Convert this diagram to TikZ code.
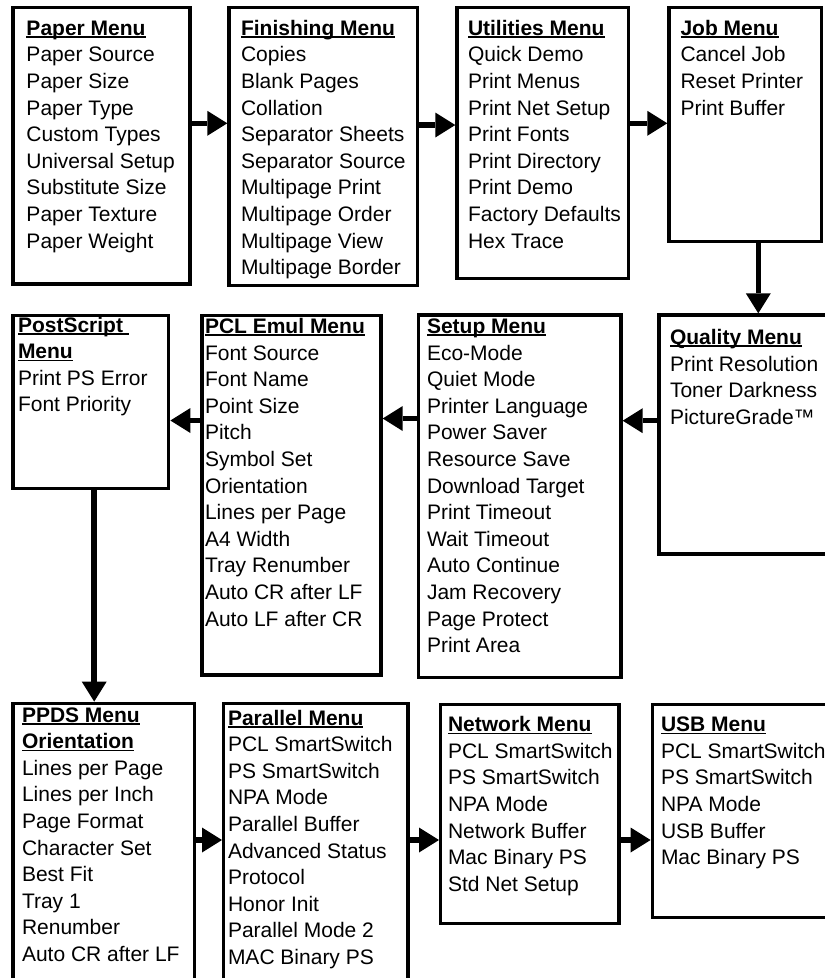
\documentclass[tikz,border=0pt]{standalone}
\usepackage{fontspec}
\setmainfont{Liberation Sans}
\usetikzlibrary{arrows.meta,fit}
\newcommand\menuhead[1]{\setbox0=\hbox{\bfseries #1}\rlap{\rule[-2.6pt]{\wd0}{1.7pt}}\box0}
\newcommand\mfont{\fontsize{21}{26.6}\selectfont}
\begin{document}
\begin{tikzpicture}[x=1pt,y=-1pt,
  box/.style={draw, line width=3.4pt, inner sep=0pt},
  menutext/.style={anchor=north west, inner sep=0pt, outer sep=0pt, align=left, font=\mfont, yshift=18.62pt},
  arr/.style={line width=5.5pt, -{Triangle[length=20pt,width=25pt,line width=0pt]}}]
\fill[white] (0,0) rectangle (825,978);
\useasboundingbox (0,0) rectangle (825,978);
\clip (0,0) rectangle (825,978);

% boxes, row 1
\node[box, fit={(13,7.7)(190,284)}] (paper) {};
\node[box, fit={(229,7.7)(417.5,285.5)}] (fin) {};
\node[box, fit={(457,7.7)(628.7,278.7)}] (util) {};
\node[box, fit={(669,7.7)(821.7,241.3)}] (job) {};
% row 2
\node[box, fit={(13,315.5)(168.7,488.7)}] (ps) {};
\node[box, fit={(202,315.7)(381,675)}] (pcl) {};
\node[box, fit={(418.3,315)(621,677.7)}] (setup) {};
\node[box, fit={(659,315)(860,554)}] (qual) {};
% row 3
\node[box, fit={(13,703.3)(194.7,1010)}] (ppds) {};
\node[box, fit={(223.7,703.3)(408,1010)}] (par) {};
\node[box, fit={(440.7,704.3)(619,923.3)}] (net) {};
\node[box, fit={(652.3,704.3)(860,917.7)}] (usb) {};

% texts
\node[menutext] (paperT) at (26.5,35.3) {\strut\menuhead{Paper Menu}\\Paper Source\\Paper Size\\Paper Type\\Custom Types\\Universal Setup\\Substitute Size\\Paper Texture\\Paper Weight};
\node[menutext] (finT) at (241,35.3) {\strut\menuhead{Finishing Menu}\\Copies\\Blank Pages\\Collation\\Separator Sheets\\Separator Source\\Multipage Print\\Multipage Order\\Multipage View\\Multipage Border};
\node[menutext] (utilT) at (468,35.3) {\strut\menuhead{Utilities Menu}\\Quick Demo\\Print Menus\\Print Net Setup\\Print Fonts\\Print Directory\\Print Demo\\Factory Defaults\\Hex Trace};
\node[menutext] (jobT) at (680.5,35.3) {\strut\menuhead{Job Menu}\\Cancel Job\\Reset Printer\\Print Buffer};

\node[menutext] (psT) at (18,332) {\strut\menuhead{PostScript\ }\\\menuhead{Menu}\\Print PS Error\\Font Priority};
\node[menutext] (pclT) at (205,333.5) {\strut\menuhead{PCL Emul Menu}\\Font Source\\Font Name\\Point Size\\Pitch\\Symbol Set\\Orientation\\Lines per Page\\A4 Width\\Tray Renumber\\Auto CR after LF\\Auto LF after CR};
\node[menutext] (setupT) at (427,333.5) {\strut\menuhead{Setup Menu}\\Eco-Mode\\Quiet Mode\\Printer Language\\Power Saver\\Resource Save\\Download Target\\Print Timeout\\Wait Timeout\\Auto Continue\\Jam Recovery\\Page Protect\\Print Area};
\node[menutext] (qualT) at (670,344.5) {\strut\menuhead{Quality Menu}\\Print Resolution\\Toner Darkness\\PictureGrade™};

\node[menutext] (ppdsT) at (22,722) {\strut\menuhead{PPDS Menu}\\\menuhead{Orientation}\\Lines per Page\\Lines per Inch\\Page Format\\Character Set\\Best Fit\\Tray 1\\Renumber\\Auto CR after LF};
\node[menutext] (parT) at (228,725) {\strut\menuhead{Parallel Menu}\\PCL SmartSwitch\\PS SmartSwitch\\NPA Mode\\Parallel Buffer\\Advanced Status\\Protocol\\Honor Init\\Parallel Mode 2\\MAC Binary PS};
\node[menutext] (netT) at (448,731.7) {\strut\menuhead{Network Menu}\\PCL SmartSwitch\\PS SmartSwitch\\NPA Mode\\Network Buffer\\Mac Binary PS\\Std Net Setup};
\node[menutext] (usbT) at (661,731.7) {\strut\menuhead{USB Menu}\\PCL SmartSwitch\\PS SmartSwitch\\NPA Mode\\USB Buffer\\Mac Binary PS};

% connector levels
\coordinate (ya) at (0,123.3);
\coordinate (yb) at (0,125);
\coordinate (yc) at (0,420.7);
\coordinate (yd) at (0,418.5);
\coordinate (ye) at (0,420.5);
\coordinate (yf) at (0,840);
\coordinate (xa) at (758.3,0);
\coordinate (xb) at (94.2,0);

\draw[arr] (paper.east |- ya) -- (fin.west |- ya);
\draw[arr] (fin.east |- yb) -- (util.west |- yb);
\draw[arr] (util.east |- ya) -- (job.west |- ya);
\draw[arr] (job.south -| xa) -- (qual.north -| xa);
\draw[arr] (qual.west |- yc) -- (setup.east |- yc);
\draw[arr] (setup.west |- yd) -- (pcl.east |- yd);
\draw[arr] (pcl.west |- ye) -- (ps.east |- ye);
\draw[arr] (ps.south -| xb) -- (ppds.north -| xb);
\draw[arr] (ppds.east |- yf) -- (par.west |- yf);
\draw[arr] (par.east |- yf) -- (net.west |- yf);
\draw[arr] (net.east |- yf) -- (usb.west |- yf);
\end{tikzpicture}
\end{document}
